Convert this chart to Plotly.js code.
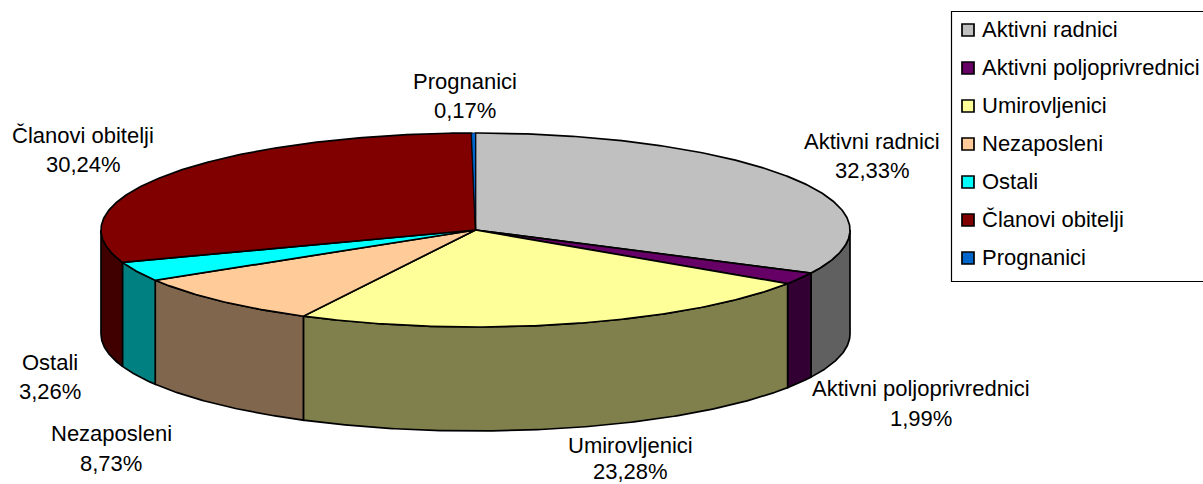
<!DOCTYPE html>
<html>
<head>
<meta charset="utf-8">
<script src="https://cdn.plot.ly/plotly-3.0.1.min.js"></script>
<style>html,body{margin:0;padding:0;background:#fff;overflow:hidden}</style>
</head>
<body>
<div id="chart" style="width:1203px;height:484px"></div>
<script>
const categories = ["Aktivni radnici","Aktivni poljoprivrednici","Umirovljenici","Nezaposleni","Ostali","Članovi obitelji","Prognanici"];
const shares = [32.33,1.99,23.28,8.73,3.26,30.24,0.17];
const topColors = ["#C0C0C0","#660066","#FFFF99","#FFCC99","#00FFFF","#800000","#0066CC"];
const sideColors = ["#606060","#330033","#80804D","#80664D","#008080","#400000","#003366"];

// label anchors: centre x, first line y, second line y
const labelX = [872,921,630,111,50,83,465];
const labelY1 = [141,388,445,433,362,135,81];
const labelY2 = [170,418,471,463,391,164,110];

// pie geometry in the pixel-sized plot scale
const cx = 475.5, cy = 230, rx = 374.5, ry = 97, depth = 104;
const FONT = "Liberation Sans, Arial, sans-serif";
const FS = 22;

function pt(deg, dy){
  const a = deg*Math.PI/180;
  return [cx + rx*Math.sin(a), cy - ry*Math.cos(a) + (dy||0)];
}
function arc(a0, a1, dy){
  const n = Math.max(2, Math.ceil(Math.abs(a1-a0)/0.5));
  const out = [];
  for(let i=0;i<=n;i++) out.push(pt(a0+(a1-a0)*i/n, dy));
  return out;
}

const total = shares.reduce((a,b)=>a+b,0);
let acc = 0;
const bounds = shares.map(v=>{const s=acc/total*360; acc+=v; return [s,acc/total*360];});

const traces = [];
// visible rim: only the front half of the disc (90..270 degrees)
bounds.forEach((b,i)=>{
  const s = Math.max(b[0],90), e = Math.min(b[1],270);
  if(e<=s) return;
  const pts = arc(s,e,0).concat(arc(e,s,depth));
  pts.push(pts[0]);
  traces.push({type:"scatter",mode:"lines",fill:"toself",fillcolor:sideColors[i],
    line:{color:"#000",width:1.7},x:pts.map(p=>p[0]),y:pts.map(p=>p[1]),
    name:categories[i]+" (rim)",hoverinfo:"skip",showlegend:false});
});
// top face
bounds.forEach((b,i)=>{
  const pts = [[cx,cy]].concat(arc(b[0],b[1],0));
  pts.push([cx,cy]);
  traces.push({type:"scatter",mode:"lines",fill:"toself",fillcolor:topColors[i],
    line:{color:"#000",width:shares[i]<1?0.7:1.7},x:pts.map(p=>p[0]),y:pts.map(p=>p[1]),
    name:categories[i],text:categories[i]+": "+shares[i].toFixed(2).replace(".",",")+"%",
    hoverinfo:"text",showlegend:false});
});

// legend
const legX = 968, legTextX = 982, legY0 = 30, legStep = 38;
traces.push({type:"scatter",mode:"markers",
  x:categories.map(()=>legX),y:categories.map((c,i)=>legY0+i*legStep),
  marker:{symbol:"square",size:12,color:topColors,line:{color:"#000",width:1.7}},
  name:"legend",hoverinfo:"skip",showlegend:false});

const annotations = [];
const txt = (x,y,text,anchor)=>annotations.push({x,y,text,xref:"x",yref:"y",showarrow:false,
  xanchor:anchor||"center",yanchor:"middle",font:{family:FONT,size:FS,color:"#000"},borderpad:0,borderwidth:0});
categories.forEach((c,i)=>{
  txt(labelX[i],labelY1[i],c);
  txt(labelX[i],labelY2[i],shares[i].toFixed(2).replace(".",",")+"%");
  txt(legTextX,legY0+i*legStep-1,c,"left");
});

const layout = {
  width:1203,height:484,margin:{l:0,r:0,t:0,b:0},
  paper_bgcolor:"#fff",plot_bgcolor:"#fff",showlegend:false,
  xaxis:{range:[0,1203],visible:false,fixedrange:true},
  yaxis:{range:[484,0],visible:false,fixedrange:true},
  shapes:[{type:"rect",xref:"x",yref:"y",x0:951.5,x1:1215,y0:11.5,y1:281.5,
    line:{color:"#000",width:1.2},fillcolor:"rgba(0,0,0,0)"}],
  annotations
};
Plotly.newPlot("chart",traces,layout,{displayModeBar:false,responsive:false});
</script>
</body>
</html>
